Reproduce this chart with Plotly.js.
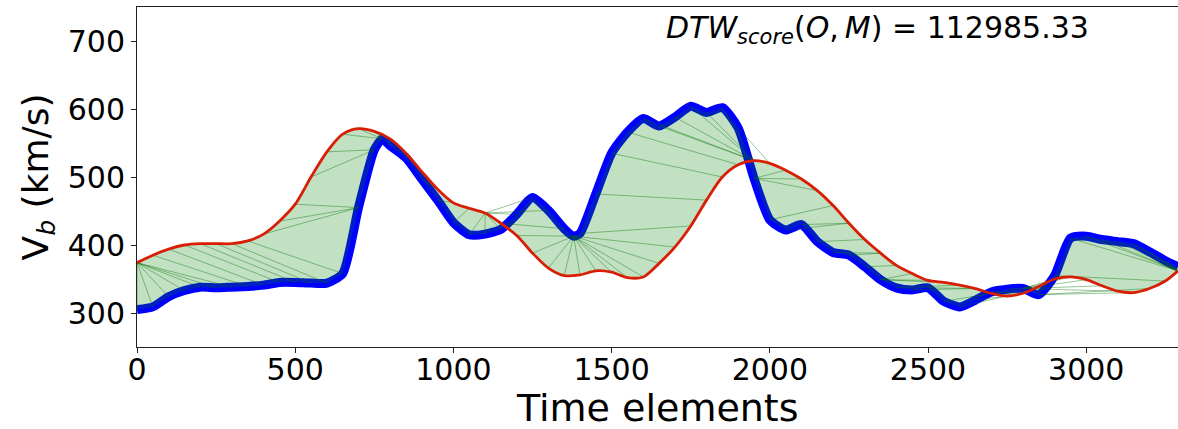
<!DOCTYPE html>
<html>
<head>
<meta charset="utf-8">
<script src="https://cdn.plot.ly/plotly-3.0.1.min.js"></script>
<style>html,body{margin:0;padding:0;background:#fff;}#chart{width:1178px;height:429px;}</style>
</head>
<body>
<div id="chart"></div>
<script>
// Observed series O (blue)
const obsT = [0,50,100,150,200,250,300,350,400,450,500,550,600,650,700,750,775,800,850,900,950,1000,1050,1100,1150,1200,1250,1300,1350,1380,1400,1450,1500,1550,1600,1650,1700,1750,1800,1850,1900,1950,2000,2050,2100,2150,2200,2250,2300,2350,2400,2450,2500,2550,2600,2650,2700,2750,2800,2850,2900,2950,3000,3050,3100,3150,3200,3250,3290];
const obsV = [305,309,324,333,338,337,338,339,341,345,345,344,344,358,455,540,556,546,528,497,466,433,415,416,423,445,470,451,424,413,417,475,535,566,586,575,588,604,595,602,572,498,437,422,430,405,389,385,368,349,337,334,337,317,309,319,331,335,336,327,355,410,413,408,405,402,390,377,368];
// Model series M (red)
const modT = [0,50,100,150,200,250,300,350,400,450,500,550,600,650,700,750,800,850,900,950,1000,1050,1100,1150,1200,1250,1300,1350,1400,1450,1500,1550,1600,1650,1700,1750,1800,1850,1900,1950,2000,2050,2100,2150,2200,2250,2300,2350,2400,2450,2500,2550,2600,2650,2700,2750,2800,2850,2900,2950,3000,3050,3100,3150,3200,3250,3290];
const modV = [374,385,394,400,402,402,402,406,416,435,460,500,537,563,571,567,556,535,508,482,462,454,447,432,414,388,366,355,356,362,360,352,353,373,397,428,466,500,518,524,520,510,497,480,458,432,408,388,370,358,348,345,341,336,329,325,329,339,350,353,349,340,332,330,336,347,362];
const scoreText = "112985.33";
const xTicks = [0,500,1000,1500,2000,2500,3000];
const yTicks = [300,400,500,600,700];

// DTW alignment between O and M (computed from the series above)
function dtwPath(a, b) {
  const n = a.length, m = b.length;
  const D = [];
  for (let i = 0; i < n; i++) {
    D.push(new Array(m).fill(Infinity));
    for (let j = 0; j < m; j++) {
      const c = Math.abs(a[i] - b[j]);
      if (i === 0 && j === 0) D[i][j] = c;
      else {
        let best = Infinity;
        if (i > 0) best = Math.min(best, D[i-1][j]);
        if (j > 0) best = Math.min(best, D[i][j-1]);
        if (i > 0 && j > 0) best = Math.min(best, D[i-1][j-1]);
        D[i][j] = c + best;
      }
    }
  }
  let i = n - 1, j = m - 1;
  const path = [[i, j]];
  while (i > 0 || j > 0) {
    if (i === 0) j--;
    else if (j === 0) i--;
    else {
      const d = D[i-1][j-1], u = D[i-1][j], l = D[i][j-1];
      if (d <= u && d <= l) { i--; j--; }
      else if (u <= l) i--;
      else j--;
    }
    path.push([i, j]);
  }
  return path.reverse();
}

const path = dtwPath(obsV, modV);
const fx = [], fy = [], lx = [], ly = [];
for (let k = 0; k < path.length; k++) {
  const [i, j] = path[k];
  lx.push(obsT[i], modT[j], null);
  ly.push(obsV[i], modV[j], null);
  if (k < path.length - 1) {
    const [i1, j1] = path[k+1];
    fx.push(obsT[i], modT[j], modT[j1], obsT[i1], obsT[i], null);
    fy.push(obsV[i], modV[j], modV[j1], obsV[i1], obsV[i], null);
  }
}

const traces = [
  {x: obsT, y: obsV, type: 'scatter', mode: 'lines',
   line: {color: '#0000ff', width: 9, shape: 'spline', smoothing: 0.6}, hoverinfo: 'skip'},
  {x: fx, y: fy, type: 'scatter', mode: 'lines', fill: 'toself',
   fillcolor: 'rgba(0,128,0,0.24)', line: {width: 0, color: 'rgba(0,0,0,0)'}, connectgaps: false, hoverinfo: 'skip'},
  {x: lx, y: ly, type: 'scatter', mode: 'lines',
   line: {color: 'rgba(0,110,0,0.4)', width: 1}, connectgaps: false, hoverinfo: 'skip'},
  {x: modT, y: modV, type: 'scatter', mode: 'lines',
   line: {color: '#d81e05', width: 2.8, shape: 'spline', smoothing: 0.8}, hoverinfo: 'skip'}
];

const layout = {
  width: 1178, height: 429,
  margin: {l: 137, r: 0, t: 7, b: 82},
  paper_bgcolor: '#fff', plot_bgcolor: '#fff',
  showlegend: false,
  font: {family: 'DejaVu Sans', color: '#000'},
  xaxis: {
    range: [0, 3290], tickvals: xTicks, ticktext: xTicks.map(String),
    showgrid: false, zeroline: false, showline: true, mirror: true,
    linecolor: '#222', linewidth: 1, ticks: 'outside', ticklen: 5, tickcolor: '#222',
    ticklabelstandoff: -9,
    tickfont: {size: 30, family: 'DejaVu Sans', color: '#000'}
  },
  yaxis: {
    range: [250, 750], tickvals: yTicks, ticktext: yTicks.map(String),
    showgrid: false, zeroline: false, showline: true, mirror: true,
    linecolor: '#222', linewidth: 1, ticks: 'outside', ticklen: 5, tickcolor: '#222',
    tickfont: {size: 30, family: 'DejaVu Sans', color: '#000'},
    title: {text: 'V<sub><i>b</i></sub> (km/s)', font: {size: 36, family: 'DejaVu Sans', color: '#000'}, standoff: 8}
  },
  annotations: [{
    xref: 'paper', yref: 'paper', x: 0.711, y: 0.935, xanchor: 'center', yanchor: 'middle',
    showarrow: false,
    text: '<i>DTW</i><sub><i>score</i></sub>(<i>O</i>,\u2009<i>M</i>) = ' + scoreText,
    font: {size: 30, family: 'DejaVu Sans', color: '#000'}
  }, {
    xref: 'paper', yref: 'paper', x: 0.5, y: -0.178, xanchor: 'center', yanchor: 'middle',
    showarrow: false, borderpad: 0, text: 'Time elements',
    font: {size: 38, family: 'DejaVu Sans', color: '#000'}
  }]
};

Plotly.newPlot('chart', traces, layout, {staticPlot: true, displayModeBar: false});
</script>
</body>
</html>
